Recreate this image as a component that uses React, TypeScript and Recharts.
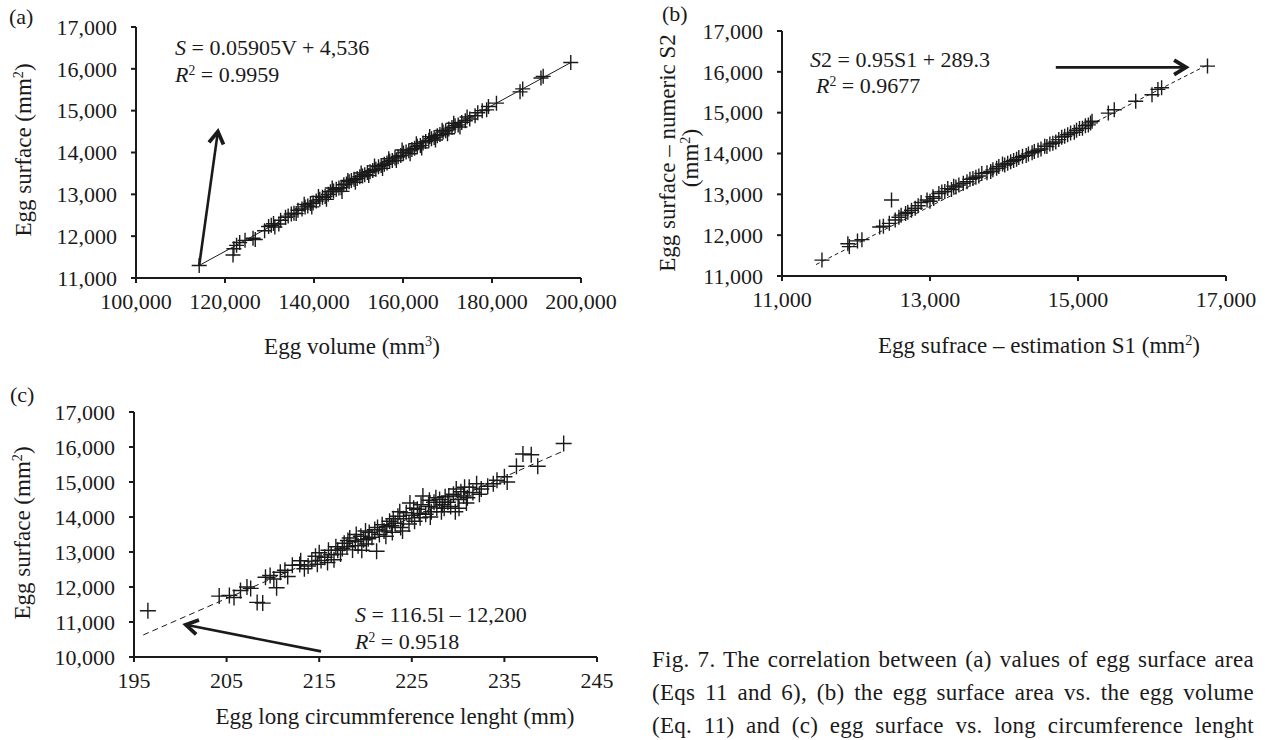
import { ScatterChart, Scatter, XAxis, YAxis, ReferenceLine } from "recharts";

const FONT = '"Liberation Serif", "Times New Roman", serif';
const INK = "#1a1a1a";

// (a) egg volume (mm3) vs egg surface (mm2)
const aXTicks = [100000, 120000, 140000, 160000, 180000, 200000];
const aYTicks = [11000, 12000, 13000, 14000, 15000, 16000, 17000];
const aPoints: [number, number][] = [
  [114200, 11300],
  [121800, 11550], [122000, 11700], [122600, 11780], [123300, 11850], [124500, 11900], [126300, 11950], [126800, 11920],
  [129800, 12230], [130400, 12260], [130900, 12300], [131200, 12220], [132500, 12380],
  [133600, 12450], [134200, 12480], [134900, 12530], [135500, 12550], [136400, 12620],
  [137300, 12650], [138000, 12700], [138600, 12720], [139200, 12780], [139800, 12790], [140500, 12840],
  [141300, 12880], [141900, 12930], [142500, 12950], [143200, 13000], [143700, 13060], [144400, 13080],
  [145000, 13120], [145600, 13150], [146100, 13160], [146700, 13230], [147300, 13250], [147900, 13300],
  [148400, 13330], [149000, 13360], [149700, 13380], [150300, 13420], [150900, 13440], [151400, 13470],
  [152000, 13520], [152600, 13540], [153200, 13570], [153900, 13600], [154500, 13660], [155100, 13690],
  [155800, 13720], [156400, 13750], [157000, 13790], [157600, 13810], [158200, 13870], [158900, 13900],
  [159500, 13930], [160100, 13990], [160700, 14010], [161300, 14040], [162000, 14070], [162600, 14100],
  [163200, 14150], [163900, 14170], [164500, 14230], [165100, 14260], [165800, 14290], [166400, 14330],
  [167000, 14360], [167700, 14400], [168300, 14430], [169000, 14490], [169600, 14520], [170300, 14560],
  [171000, 14600], [171700, 14640], [172400, 14660], [173200, 14720], [174000, 14760], [175000, 14800],
  [176800, 14950], [177800, 15000], [178800, 15020], [181000, 15180],
  [186300, 15450], [186900, 15520], [191000, 15780], [191500, 15820], [197700, 16150],
  [128900, 12130], [132100, 12290], [136000, 12540], [137800, 12760], [139500, 12700], [141000, 12950],
  [142800, 12880], [144100, 13150], [146300, 13070], [147600, 13330], [149300, 13290], [150600, 13510],
  [152300, 13450], [153600, 13680], [155400, 13620], [156800, 13850], [158500, 13810], [159800, 14060],
  [161600, 13970], [163000, 14210], [164200, 14110], [166000, 14380], [167300, 14300], [168800, 14530],
  [170000, 14450], [171400, 14700], [172800, 14610], [174400, 14850], [176200, 14880], [179200, 15100],
];
const aTrend: [number, number][] = [[114200, 11300], [197700, 16150]];
const aArrow: [number, number][] = [[114200, 11300], [118400, 14500]];

// (b) estimated S1 vs numeric S2
const bXTicks = [11000, 13000, 15000, 17000];
const bYTicks = [11000, 12000, 13000, 14000, 15000, 16000, 17000];
const bPoints: [number, number][] = [
  [11540, 11390],
  [11890, 11790], [11910, 11720], [12020, 11860], [12080, 11890],
  [12320, 12200], [12370, 12220], [12480, 12860],
  [12530, 12370], [12610, 12490], [12670, 12530], [12750, 12610], [12800, 12660],
  [12880, 12800], [12960, 12860], [13040, 12940], [13120, 13020], [13200, 13070], [13290, 13120],
  [13390, 13230], [13500, 13310], [13580, 13390], [13660, 13450], [13770, 13530], [13850, 13600],
  [13930, 13680], [14010, 13720], [14090, 13800], [14170, 13860], [14250, 13930], [14330, 13990],
  [14410, 14050], [14500, 14110], [14580, 14170], [14660, 14250], [14740, 14340], [14820, 14420],
  [14900, 14500], [14980, 14570], [15060, 14620], [15140, 14700], [15190, 14790],
  [13050, 12900], [13350, 13180], [13620, 13420], [13900, 13640], [14130, 13830], [14380, 14020],
  [14620, 14230], [14860, 14460], [15100, 14680], [12700, 12560], [13450, 13270], [14050, 13760],
  [12580, 12440], [12840, 12720], [13000, 12830], [13160, 13060], [13320, 13200], [13540, 13370],
  [13700, 13510], [13820, 13560], [13980, 13740], [14200, 13900], [14300, 13950], [14460, 14080],
  [14550, 14180], [14700, 14280], [14780, 14400], [14950, 14520], [15020, 14610], [15170, 14750],
  [12450, 12290], [13240, 13140],
  [15410, 14990], [15490, 15070], [15780, 15280],
  [16000, 15440], [16080, 15570], [16130, 15610],
  [16750, 16140],
];
const bTrend: [number, number][] = [[11460, 11280], [16750, 16170]];
const bArrow: [number, number][] = [[14700, 16110], [16460, 16110]];

// (c) long circumference length (mm) vs egg surface (mm2)
const cXTicks = [195, 205, 215, 225, 235, 245];
const cYTicks = [10000, 11000, 12000, 13000, 14000, 15000, 16000, 17000];
const cPoints: [number, number][] = [
  [196.5, 11320],
  [204.2, 11740], [205.3, 11760], [205.8, 11700], [206.5, 11900], [207.2, 12000], [207.6, 11960],
  [208.3, 11560], [208.9, 11540], [209.2, 12280], [209.7, 12330], [210.1, 12230], [210.4, 11980], [210.8, 12420],
  [211.3, 12480], [211.6, 12300], [212.1, 12620], [212.9, 12640], [213.4, 12520], [213.8, 12600], [214.2, 12740],
  [214.6, 12880], [215.0, 12980], [215.2, 12760], [215.6, 12850], [215.9, 12700], [216.3, 12920], [216.6, 12780],
  [217.0, 13050], [217.3, 12940], [217.7, 13250], [218.0, 13150], [218.3, 13400], [218.6, 13060], [218.9, 13300],
  [219.2, 13180], [219.5, 13450], [219.8, 13350], [220.1, 13230], [220.4, 13560], [220.7, 13420], [221.0, 13640],
  [221.2, 13020], [221.5, 13500], [221.8, 13780], [222.0, 13600], [222.3, 13720], [222.6, 13880], [222.9, 13560],
  [223.2, 13820], [223.5, 14020], [223.8, 13700], [224.1, 13950], [224.4, 14120], [224.7, 13800], [225.0, 14050],
  [225.3, 13880], [225.6, 14220], [225.9, 13980], [226.2, 14600], [226.5, 14080], [226.8, 14300], [227.1, 14150],
  [227.4, 14420], [227.7, 14260], [228.0, 14500], [228.3, 14350], [228.6, 14580], [228.9, 14420], [229.2, 14300],
  [229.5, 14650], [229.7, 14150], [230.0, 14500], [230.3, 14720], [230.6, 14600], [230.9, 14400], [231.2, 14850],
  [231.6, 14700], [232.0, 14950], [232.5, 14800], [233.2, 14880], [235.0, 15150], [235.3, 15000],
  [236.3, 15450], [237.0, 15800], [237.9, 15780], [238.6, 15450], [241.4, 16100],
  [218.1, 13330], [219.0, 13500], [220.0, 13600], [221.3, 13700], [222.2, 13450], [223.0, 13950], [224.0, 13600],
  [225.2, 14250], [226.0, 14350], [227.0, 14000], [228.2, 14150], [229.0, 14600], [230.1, 14250], [231.0, 14550],
  [219.6, 13050], [216.8, 13150], [224.8, 14400], [227.6, 14550],
  [213.0, 12750], [214.8, 12650], [216.0, 13050], [217.5, 13100], [220.3, 13380], [222.8, 13750], [223.7, 14150],
  [225.8, 14100], [226.9, 14480], [228.5, 14250], [229.8, 14800], [230.7, 14850], [232.3, 14650], [233.8, 14950],
  [234.2, 15050],
];
const cTrend: [number, number][] = [[196, 10630], [241.5, 15900]];
const cArrow: [number, number][] = [[215.2, 10160], [200.6, 10920]];

const fmt = (v: number) => v.toLocaleString("en-US");
const toXY = (pts: [number, number][]) => pts.map(([x, y]) => ({ x, y }));

const cross = (half: number) => (p: any) => (
  <path
    d={`M${p.cx - half},${p.cy}H${p.cx + half}M${p.cx},${p.cy - half}V${p.cy + half}`}
    stroke={INK}
    strokeWidth={1.4}
    fill="none"
  />
);

const ArrowShape = (p: any) => {
  const { x1, y1, x2, y2 } = p;
  const ang = Math.atan2(y2 - y1, x2 - x1);
  const L = 14;
  const a = 0.55;
  const h1 = [x2 - L * Math.cos(ang - a), y2 - L * Math.sin(ang - a)];
  const h2 = [x2 - L * Math.cos(ang + a), y2 - L * Math.sin(ang + a)];
  return (
    <g>
      <line x1={x1} y1={y1} x2={x2} y2={y2} stroke={INK} strokeWidth={2.6} />
      <polyline
        points={`${h1[0]},${h1[1]} ${x2},${y2} ${h2[0]},${h2[1]}`}
        fill="none"
        stroke={INK}
        strokeWidth={3.8}
        strokeLinejoin="miter"
      />
    </g>
  );
};

const tickStyle = { fill: INK, fontSize: 22, fontFamily: FONT };
const axisStyle = { stroke: INK, strokeWidth: 2 };

type PanelProps = {
  left: number; top: number; width: number; height: number;
  margin: { top: number; right: number; bottom: number; left: number };
  yWidth: number;
  xDomain: [number, number]; xTicks: number[];
  yDomain: [number, number]; yTicks: number[];
  points: [number, number][]; half: number;
  trend: [number, number][]; dash?: string;
  arrow: [number, number][];
};

const Panel = (p: PanelProps) => (
  <div style={{ position: "absolute", left: p.left, top: p.top }}>
    <ScatterChart width={p.width} height={p.height} margin={p.margin}>
      <XAxis type="number" dataKey="x" domain={p.xDomain} ticks={p.xTicks} interval={0}
        tickFormatter={fmt} axisLine={axisStyle} tickLine={axisStyle} tickSize={5} tickMargin={10}
        tick={tickStyle} height={30} allowDataOverflow />
      <YAxis type="number" dataKey="y" domain={p.yDomain} ticks={p.yTicks} interval={0}
        tickFormatter={fmt} axisLine={axisStyle} tickLine={axisStyle} tickSize={5} tickMargin={14}
        tick={tickStyle} width={p.yWidth} allowDataOverflow />
      <ReferenceLine segment={toXY(p.trend)} stroke={INK} strokeWidth={1}
        strokeDasharray={p.dash} ifOverflow="visible" />
      <Scatter data={toXY(p.points)} shape={cross(p.half)} isAnimationActive={false} />
      <ReferenceLine segment={toXY(p.arrow)} shape={ArrowShape} ifOverflow="visible" />
    </ScatterChart>
  </div>
);

const Sup = ({ children }: { children: any }) => (
  <span style={{ fontSize: "0.62em", position: "relative", top: "-0.55em" }}>{children}</span>
);

// text placed by its left edge and vertical centre
const T = ({ x, cy, children }: { x: number; cy: number; children: any }) => (
  <div style={{ position: "absolute", left: x, top: cy - 13, fontSize: 22, lineHeight: "26px", whiteSpace: "nowrap" }}>
    {children}
  </div>
);

// text placed by its centre, optionally rotated
const C = ({ x, y, rotate = false, children }: { x: number; y: number; rotate?: boolean; children: any }) => (
  <div style={{
    position: "absolute", left: x, top: y, fontSize: 23, lineHeight: "26px", whiteSpace: "nowrap",
    transform: `translate(-50%, -50%)${rotate ? " rotate(-90deg)" : ""}`,
  }}>
    {children}
  </div>
);

const captionLines = [
  "Fig. 7. The correlation between (a) values of egg surface area",
  "(Eqs 11 and 6), (b) the egg surface area vs. the egg volume",
  "(Eq. 11) and (c) egg surface vs. long circumference lenght",
];

export default function App() {
  return (
    <div style={{ position: "absolute", left: 0, top: 0, width: 1265, height: 740, overflow: "hidden", background: "#fff", fontFamily: FONT, color: INK }}>
      <Panel left={0} top={0} width={620} height={315} margin={{ top: 27, right: 39, bottom: 7, left: 0 }}
        yWidth={136} xDomain={[100000, 200000]} xTicks={aXTicks} yDomain={[11000, 17000]} yTicks={aYTicks}
        points={aPoints} half={7.5} trend={aTrend} arrow={aArrow} />
      <Panel left={640} top={0} width={625} height={315} margin={{ top: 31, right: 39, bottom: 9, left: 0 }}
        yWidth={142} xDomain={[11000, 17000]} xTicks={bXTicks} yDomain={[11000, 17000]} yTicks={bYTicks}
        points={bPoints} half={7.5} trend={bTrend} dash="4 3" arrow={bArrow} />
      <Panel left={0} top={380} width={640} height={320} margin={{ top: 32, right: 43, bottom: 13, left: 0 }}
        yWidth={134} xDomain={[195, 245]} xTicks={cXTicks} yDomain={[10000, 17000]} yTicks={cYTicks}
        points={cPoints} half={8} trend={cTrend} dash="6 4" arrow={cArrow} />

      <T x={9} cy={17}>(a)</T>
      <T x={175} cy={48}><i>S</i> = 0.05905V + 4,536</T>
      <T x={175} cy={75}><i>R</i><Sup>2</Sup> = 0.9959</T>
      <C x={25} y={150} rotate>Egg surface (mm<Sup>2</Sup>)</C>
      <C x={352} y={348}>Egg volume (mm<Sup>3</Sup>)</C>

      <T x={662} cy={14}>(b)</T>
      <T x={810} cy={60}><i>S</i>2 = 0.95S1 + 289.3</T>
      <T x={816} cy={86}><i>R</i><Sup>2</Sup> = 0.9677</T>
      <C x={668} y={153} rotate>Egg surface – numeric S2</C>
      <C x={692} y={158} rotate>(mm<Sup>2</Sup>)</C>
      <C x={1039} y={347}>Egg sufrace – estimation S1 (mm<Sup>2</Sup>)</C>

      <T x={10} cy={395}>(c)</T>
      <T x={355} cy={615}><i>S</i> = 116.5l – 12,200</T>
      <T x={355} cy={642}><i>R</i><Sup>2</Sup> = 0.9518</T>
      <C x={24} y={533} rotate>Egg surface (mm<Sup>2</Sup>)</C>
      <C x={395} y={717}>Egg long circummference lenght (mm)</C>

      <div style={{ position: "absolute", left: 652, top: 643, width: 602, fontSize: 23, letterSpacing: "0.3px", lineHeight: "33px" }}>
        {captionLines.map((l, i) => (
          <div key={i} style={{ textAlign: "justify", textAlignLast: "justify", whiteSpace: "nowrap" }}>{l}</div>
        ))}
      </div>
    </div>
  );
}
